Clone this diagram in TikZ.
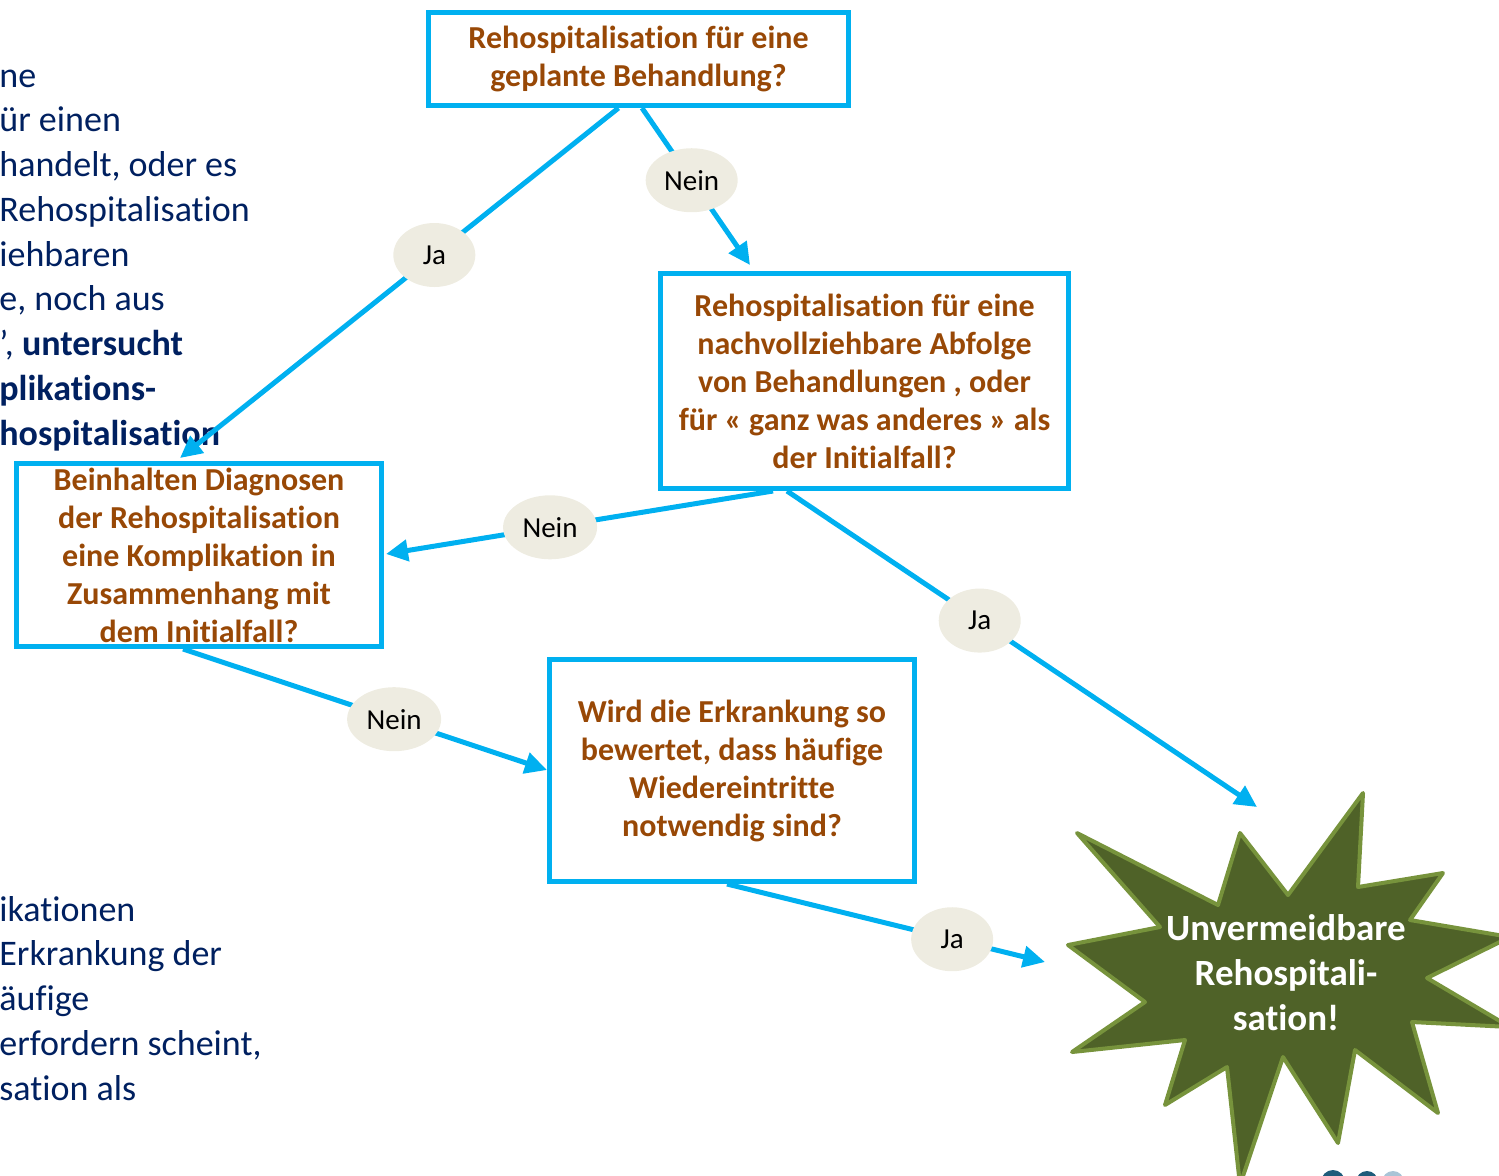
\documentclass[tikz,border=0pt]{standalone}
\usepackage{fontspec}
\setmainfont{Carlito}[Ligatures={TeX,NoCommon}]
\usetikzlibrary{shapes.geometric,arrows.meta,calc}
\definecolor{linie}{HTML}{00B0F0}
\definecolor{braun}{HTML}{984806}
\definecolor{marine}{HTML}{002060}
\definecolor{beige}{HTML}{EEECE1}
\definecolor{olivdunkel}{HTML}{4F6228}
\definecolor{olivrand}{HTML}{77933C}
\definecolor{logodunkel}{HTML}{1F5C7A}
\definecolor{logohell}{HTML}{A9C4D6}
\begin{document}
\begin{tikzpicture}[x=0.5pt,y=-0.5pt,
    frage/.style={draw=linie,line width=2.5pt,align=center,inner sep=0pt,text=braun,font=\fontsize{16}{19}\selectfont\bfseries},
    antw/.style={ellipse,fill=beige,inner sep=0pt,minimum width=41pt,minimum height=32pt,font=\fontsize{14.5}{17}\selectfont},
    pfeil/.style={draw=linie,line width=2.5pt,-{Triangle[length=11pt,width=10.5pt]}},
    folie/.style={anchor=base west,inner sep=0pt,text=marine,font=\fontsize{18}{22}\selectfont}]
    \useasboundingbox (0,0) rectangle (1499,1175);

    % Text der Folie (links abgeschnitten)
    \foreach \zeile [count=\i] in {ne, ür einen, {handelt, oder es}, Rehospitalisation, iehbaren, {e, noch aus}, {', \textbf{untersucht}}, \textbf{plikations-}, \textbf{hospitalisation}}
      \node[folie] (o\i) at (-1,{87+44.75*(\i-1)}) {\zeile};
    \foreach \zeile [count=\i] in {ikationen, Erkrankung der, äufige, {erfordern scheint,}, sation als}
      \node[folie] (u\i) at (-1,{921+44.75*(\i-1)}) {\zeile};

    % Fragen
    \node[frage,minimum width=210pt,minimum height=46.5pt] (Q1) at (638.5,59) {Rehospitalisation für eine\\geplante Behandlung?};
    \node[frage,minimum width=204pt,minimum height=107.5pt] (Q2) at (864.5,381) {Rehospitalisation für eine\\nachvollziehbare Abfolge\\von Behandlungen , oder\\für « ganz was anderes » als\\der Initialfall?};
    \node[frage,minimum width=182.5pt,minimum height=91.5pt] (Q3) at (199,555) {Beinhalten Diagnosen\\der Rehospitalisation\\eine Komplikation in\\Zusammenhang mit\\dem Initialfall?};
    \node[frage,minimum width=182.5pt,minimum height=111pt] (Q4) at (732,770.5) {Wird die Erkrankung so\\bewertet, dass häufige\\Wiedereintritte\\notwendig sind?};

    % Stern
    \draw[fill=olivdunkel,draw=olivrand,line width=2pt,line join=round]
      (1077,833) -- (1218,905) -- (1240,833) -- (1288,895) -- (1363,793) -- (1358,887)
      -- (1443,873) -- (1410,920) -- (1510,937) -- (1427,978) -- (1510,1027) -- (1412,1022)
      -- (1438,1113) -- (1355,1050) -- (1338,1143) -- (1283,1057) -- (1240,1185) -- (1227,1067)
      -- (1165,1105) -- (1185,1040) -- (1072,1052) -- (1145,1002) -- (1068,945) -- (1160,927) -- cycle;
    \node[text=white,align=center,font=\fontsize{18.5}{22.5}\selectfont\bfseries] (U) at (1286,973) {Unvermeidbare\\Rehospitali-\\sation!};

    % Logo (abgeschnitten)
    \fill[logodunkel] (1333,1182) circle (6pt);
    \fill[logodunkel] (1367,1182) circle (5.5pt);
    \fill[logohell] (1393,1182) circle (5.5pt);

    % Anfangs- und Endpunkte
    \coordinate (a1) at ($(Q1.south)+(-20,0)$);
    \coordinate (a2) at ($(Q1.south)+(3.5,0)$);
    \coordinate (a3) at ($(Q2.south)+(-91.5,0)$);
    \coordinate (a4) at ($(Q2.south)+(-77.5,0)$);
    \coordinate (a5) at ($(Q3.south)+(-16,0)$);
    \coordinate (a6) at ($(Q4.south)+(-5,0)$);
    \coordinate (b1) at (180,458);
    \coordinate (b2) at (750,265);
    \coordinate (b3) at (386,554);
    \coordinate (b4) at (1257,807);
    \coordinate (b5) at (547,770);
    \coordinate (b6) at (1045,962);

    % Verbindungen
    \draw[pfeil] (a1) -- node[antw,pos=0.42] (J1) {Ja} (b1);
    \draw[pfeil] (a2) -- node[antw,pos=0.46,minimum width=46pt] (N1) {Nein} (b2);
    \draw[pfeil] (a3) -- node[antw,pos=0.576,minimum width=47pt] (N2) {Nein} (b3);
    \draw[pfeil] (a4) -- node[antw,pos=0.41] (J2) {Ja} (b4);
    \draw[pfeil] (a5) -- node[antw,pos=0.58,minimum width=47pt] (N3) {Nein} (b5);
    \draw[pfeil] (a6) -- node[antw,pos=0.708] (J3) {Ja} (b6);
  \end{tikzpicture}
\end{document}
